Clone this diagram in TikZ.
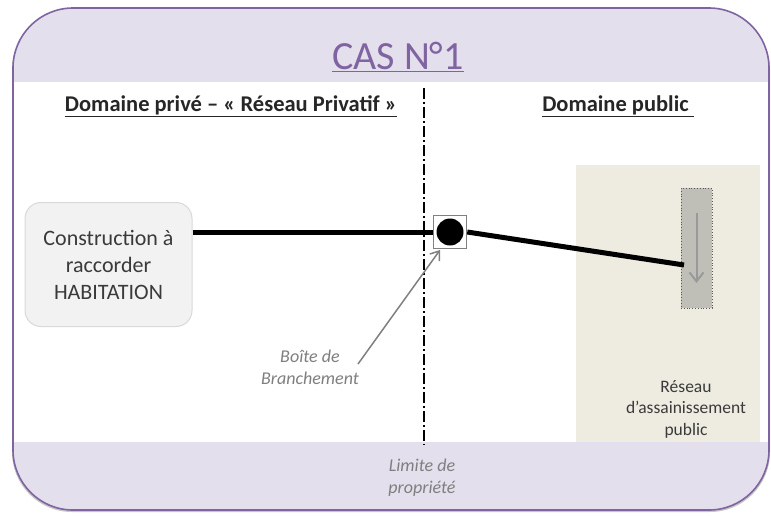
\documentclass[tikz,border=0pt]{standalone}
\usepackage{fontspec}
\setmainfont{Carlito}
\usetikzlibrary{arrows.meta,calc}
\definecolor{lav}{HTML}{E4DFEC}
\definecolor{purp}{HTML}{8064A2}
\definecolor{beige}{HTML}{EEECE1}
\definecolor{boxfill}{HTML}{F2F2F2}
\definecolor{boxline}{HTML}{D9D9D9}
\definecolor{txt}{HTML}{3A3A3A}
\definecolor{lbl}{HTML}{7F7F7F}
\definecolor{coll}{HTML}{BFBFB8}
\tikzset{
  hdr/.style={font=\fontsize{22.5}{26}\selectfont\bfseries, text=black!85, inner sep=0pt},
  italbl/.style={font=\fontsize{18}{22}\selectfont\itshape, text=lbl, align=center, inner sep=0pt},
  pipe/.style={line width=5pt, black},
}
\begin{document}
\begin{tikzpicture}[x=1pt,y=-1pt]
\useasboundingbox (0,0) rectangle (771,515);
% shadow
\fill[black!22, rounded corners=60pt] (12,10) rectangle (770,512);
% outer shape
\fill[lav, rounded corners=60pt] (13,8) rectangle (769,510);
\fill[white] (13,82) rectangle (769,442);
\draw[purp, line width=1.6pt, rounded corners=60pt] (13,8) rectangle (769,510);
% beige panel
\node[fill=beige, minimum width=184pt, minimum height=277pt, inner sep=0pt] (panel) at (668,303.5) {};
% property limit
\coordinate (limtop) at (424,88);
\coordinate (limbot) at (424,445);
\draw[line width=2.5pt, dash pattern=on 11pt off 3pt on 2pt off 3pt] (limtop) -- (limbot);
% title
\node[font=\fontsize{40}{44}\selectfont, text=purp, inner sep=0pt] (title) at (398,57) {\underline{CAS N°1}};
% headers
\node[hdr] (hdrpriv) at (231,106) {\underline{Domaine privé – « Réseau Privatif »}};
\node[hdr] (hdrpub) at (618,106) {\underline{Domaine public\ }};
% house
\node[draw=boxline, fill=boxfill, rounded corners=16pt, line width=1pt,
      minimum width=167pt, minimum height=124pt, align=center, text=txt,
      font=\fontsize{22}{27}\selectfont] (house) at (108.5,264.5) {Construction à\\raccorder\\HABITATION};
% boite de branchement
\node[draw=black!50, fill=white, line width=1.5pt, minimum size=33pt, inner sep=0pt] (boite) at (450,232) {};
\node[circle, fill=black, minimum size=27pt, inner sep=0pt] (dot) at (boite.center) {};
% collector
\node[draw=black!65, dotted, fill=coll, line width=0.8pt, minimum width=31pt, minimum height=120pt, inner sep=0pt] (collector) at (696.5,248) {};
\coordinate (cin) at (684,265);
\coordinate (flowtop) at (696.5,213);
\coordinate (flowbot) at (696.5,283);
\draw[black!40, line width=2pt, -{Straight Barb[length=9pt,width=14pt,line width=2pt]}] (flowtop) -- (flowbot);
% pipes
\draw[pipe] (house.east |- boite.west) -- (boite.west);
\draw[pipe] (boite.east) -- (cin);
% labels
\node[italbl] (lblboite) at (310,367) {Boîte de\\Branchement};
\coordinate (ptrstart) at (358,364);
\coordinate (ptrend) at (440,250);
\draw[black!50, line width=1.5pt, -{Straight Barb[length=8pt,width=12pt,line width=1.5pt]}] (ptrstart) -- (ptrend);
\node[italbl] (lbllim) at (422,478) {Limite de\\propriété};
\node[font=\fontsize{17.5}{21.5}\selectfont, text=txt, align=center, inner sep=0pt] (reseau) at (686,409) {Réseau\\d’assainissement\\public};
\end{tikzpicture}
\end{document}
